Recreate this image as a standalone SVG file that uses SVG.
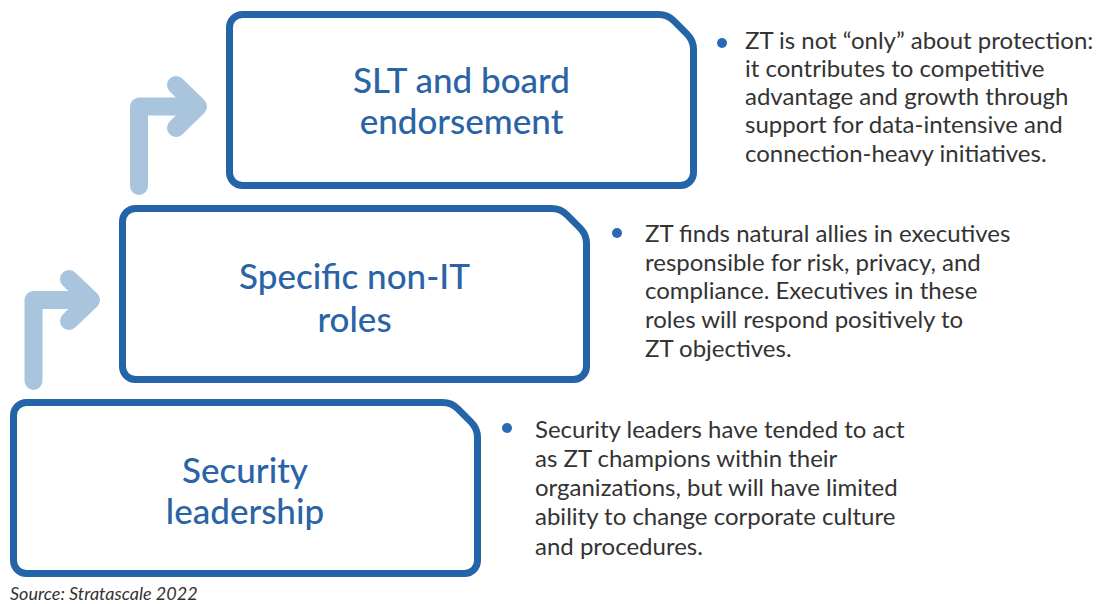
<svg xmlns="http://www.w3.org/2000/svg" xmlns:xlink="http://www.w3.org/1999/xlink" width="1104" height="604" viewBox="0 0 1104 604">
  <style>
    .box { fill: #ffffff; stroke: #2464a8; stroke-width: 7; stroke-linejoin: round; }
    .title { font-family: Lato, "Liberation Sans", sans-serif; font-size: 35px; font-weight: 500; fill: #2a64a6; text-anchor: middle; }
    .body { font-family: Lato, "Liberation Sans", sans-serif; font-size: 24px; fill: #333333; }
    .dot { fill: #2a6ab4; }
    .flow { fill: none; stroke: #a9c4dd; stroke-width: 18; stroke-linecap: round; stroke-linejoin: round; }
    .source { font-family: Lato, "Liberation Sans", sans-serif; font-size: 18px; font-style: italic; fill: #333333; }
  </style>
  <defs>
    <!-- rounded box with a cut top-right corner, 464 x 171 on the stroke centre line -->
    <path id="box" d="M13,0 H429 Q438,0 444.4,6.4 L457.6,19.6 Q464,26 464,35 V158 A13,13 0 0 1 451,171 H13 A13,13 0 0 1 0,158 V13 A13,13 0 0 1 13,0 Z"/>
  </defs>

  <rect width="1104" height="604" fill="#ffffff"/>

  <!-- step-up arrows between levels -->
  <g id="connectors">
    <path class="flow" d="M139,186 V106.5 H196"/>
    <path class="flow" d="M176,85 L198,106.5 L176,128"/>
    <path class="flow" d="M33.5,381 V300 H89"/>
    <path class="flow" d="M69,279 L91,300 L69,321"/>
  </g>

  <g id="node-slt">
    <use href="#box" class="box" transform="translate(229.5,14.5)"/>
    <text class="title" x="461.5" y="93">SLT and board</text>
    <text class="title" x="461.5" y="134">endorsement</text>
  </g>

  <g id="node-non-it">
    <use href="#box" class="box" transform="translate(122.5,208.5)"/>
    <text class="title" x="354.5" y="289">Specific non-IT</text>
    <text class="title" x="354.5" y="332">roles</text>
  </g>

  <g id="node-security">
    <use href="#box" class="box" transform="translate(13.5,402.5)"/>
    <text class="title" x="245" y="483">Security</text>
    <text class="title" x="245" y="524">leadership</text>
  </g>

  <g id="note-slt">
    <circle class="dot" cx="722" cy="43" r="5"/>
    <text class="body">
      <tspan x="745" y="49">ZT is not “only” about protection:</tspan>
      <tspan x="745" y="77">it contributes to competitive</tspan>
      <tspan x="745" y="105">advantage and growth through</tspan>
      <tspan x="745" y="133">support for data-intensive and</tspan>
      <tspan x="745" y="162">connection-heavy initiatives.</tspan>
    </text>
  </g>

  <g id="note-non-it">
    <circle class="dot" cx="617" cy="233" r="5"/>
    <text class="body">
      <tspan x="645" y="242">ZT finds natural allies in executives</tspan>
      <tspan x="645" y="271">responsible for risk, privacy, and</tspan>
      <tspan x="645" y="299">compliance. Executives in these</tspan>
      <tspan x="645" y="328">roles will respond positively to</tspan>
      <tspan x="645" y="357">ZT objectives.</tspan>
    </text>
  </g>

  <g id="note-security">
    <circle class="dot" cx="507" cy="428" r="5"/>
    <text class="body">
      <tspan x="535" y="438">Security leaders have tended to act</tspan>
      <tspan x="535" y="467">as ZT champions within their</tspan>
      <tspan x="535" y="496">organizations, but will have limited</tspan>
      <tspan x="535" y="525">ability to change corporate culture</tspan>
      <tspan x="535" y="555">and procedures.</tspan>
    </text>
  </g>

  <text class="source" x="10" y="600">Source: Stratascale 2022</text>
</svg>
